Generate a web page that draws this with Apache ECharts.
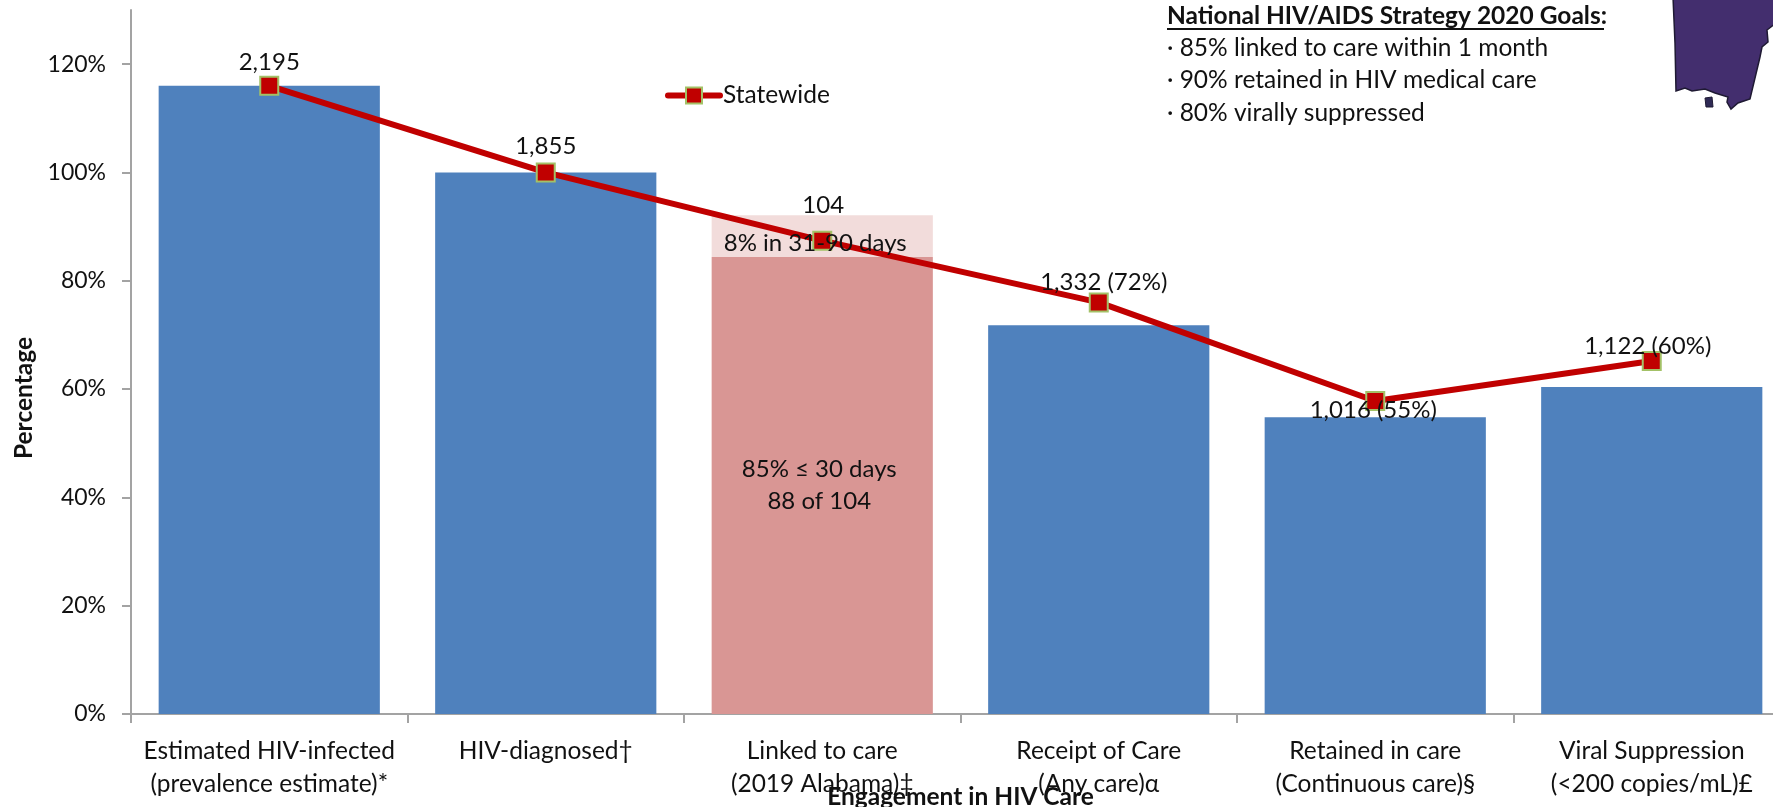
<!DOCTYPE html>
<html>
<head>
<meta charset="utf-8">
<style>
  html, body { margin: 0; padding: 0; background: #fff; }
  #chart { width: 1773px; height: 807px; }
</style>
<script src="https://cdn.jsdelivr.net/npm/echarts@6/dist/echarts.min.js"></script>
</head>
<body>
<div id="chart"></div>
<script>
const categories = [
  'Estimated HIV-infected\n(prevalence estimate)*',
  'HIV-diagnosed†',
  'Linked to care\n(2019 Alabama)‡',
  'Receipt of Care\n(Any care)α',
  'Retained in care\n(Continuous care)§',
  'Viral Suppression\n(<200 copies/mL)£'
]
const careValues = [116, 100, null, 71.8, 54.8, 60.4]
const linked30Values = [null, null, 84.4, null, null, null]
const linked90Values = [null, null, 7.7, null, null, null]
const statewideValues = [116, 100, 87.4, 76, 57.8, 65.2]
const statewideLabels = ['2,195', '1,855', '104', '1,332 (72%)', '1,016 (55%)', '1,122 (60%)']
const yTicks = [0, 20, 40, 60, 80, 100, 120]
const goalsTitle = 'National HIV/AIDS Strategy 2020 Goals:'
const goals = ['· 85% linked to care within 1 month', '· 90% retained in HIV medical care', '· 80% virally suppressed']

const FONT = 'Lato'
const FONT_SIZE = 24.5
const LABEL_SIZE = 24
const TEXT = '#111'
const AXIS = '#a3a3a3'

// label placement relative to each line marker
const labelShift = [[0, -24], [0, -26], [1, -35], [5, -20], [-2, 9], [-4, -15]]

const chart = echarts.init(document.getElementById('chart'))

chart.setOption({
  animation: false,
  textStyle: { fontFamily: FONT },
  grid: { left: 131, top: 10, width: 1659, height: 704, containLabel: false, outerBoundsMode: 'none' },
  legend: {
    left: 660,
    top: 78,
    data: [{ name: 'Statewide', lineStyle: { width: 6, cap: 'round' } }],
    itemWidth: 52,
    itemHeight: 20,
    itemGap: 10,
    textStyle: { fontFamily: FONT, fontSize: FONT_SIZE, color: TEXT, padding: [0, 0, 0, -2] }
  },
  xAxis: {
    type: 'category',
    data: categories,
    axisLine: { lineStyle: { color: AXIS, width: 2 } },
    axisTick: { show: true, length: 9, lineStyle: { color: AXIS, width: 2 } },
    axisLabel: { interval: 0, margin: 21, fontFamily: FONT, fontSize: FONT_SIZE, lineHeight: 33, color: TEXT },
    name: 'Engagement in HIV Care',
    nameLocation: 'middle',
    nameGap: 71,
    nameMoveOverlap: false,
    nameTextStyle: { fontFamily: FONT, fontSize: FONT_SIZE, fontWeight: 'bold', color: TEXT }
  },
  yAxis: {
    type: 'value',
    min: 0,
    max: 130,
    interval: 20,
    splitLine: { show: false },
    axisLine: { show: true, lineStyle: { color: AXIS, width: 2 } },
    axisTick: { show: true, length: 9, customValues: yTicks, lineStyle: { color: AXIS, width: 2 } },
    axisLabel: {
      margin: 25,
      customValues: yTicks,
      formatter: '{value}%',
      fontFamily: FONT,
      fontSize: 23,
      color: TEXT
    }
  },
  series: [
    {
      type: 'bar',
      name: 'Care',
      stack: 'care',
      barWidth: '80%',
      data: careValues,
      itemStyle: { color: '#4f81bd' }
    },
    {
      type: 'bar',
      name: 'Linked within 30 days',
      stack: 'care',
      data: linked30Values,
      itemStyle: { color: '#d99694' },
      label: {
        show: true,
        position: 'inside',
        offset: [-3, 0],
        formatter: '85% ≤ 30 days\n88 of 104',
        fontFamily: FONT,
        fontSize: LABEL_SIZE,
        lineHeight: 32,
        color: TEXT
      }
    },
    {
      type: 'bar',
      name: 'Linked in 31-90 days',
      stack: 'care',
      data: linked90Values,
      itemStyle: { color: '#f2dcdb' }
    },
    {
      type: 'line',
      name: 'Statewide',
      z: 5,
      data: statewideValues.map((v, i) => ({
        value: v,
        label: {
          show: true,
          position: 'inside',
          offset: labelShift[i],
          formatter: statewideLabels[i],
          fontFamily: FONT,
          fontSize: LABEL_SIZE,
          color: TEXT
        }
      })),
      symbol: 'rect',
      symbolSize: 18,
      itemStyle: { color: '#c00000', borderColor: '#a3c167', borderWidth: 2 },
      lineStyle: { color: '#c00000', width: 6 }
    },
    // the 31-90 days text sits over the line, so it gets its own series above it
    {
      type: 'scatter',
      name: 'Linked in 31-90 days label',
      z: 6,
      data: linked90Values.map((v, i) => (v === null ? null : linked30Values[i] + v / 2)),
      symbolSize: 1,
      itemStyle: { color: 'transparent', opacity: 1 },
      label: {
        show: true,
        position: 'inside',
        offset: [-7, 7],
        formatter: '8% in 31-90 days',
        fontFamily: FONT,
        fontSize: LABEL_SIZE,
        color: TEXT,
        opacity: 1
      }
    }
  ],
  graphic: [
    {
      type: 'text',
      x: 24,
      y: 398,
      rotation: Math.PI / 2,
      style: {
        text: 'Percentage',
        font: 'bold ' + FONT_SIZE + 'px ' + FONT,
        fill: TEXT,
        align: 'center',
        verticalAlign: 'middle'
      }
    },
    {
      type: 'text',
      x: 1167,
      y: 16,
      style: { text: goalsTitle, font: 'bold ' + FONT_SIZE + 'px ' + FONT, fill: TEXT, verticalAlign: 'middle' }
    },
    {
      type: 'line',
      shape: { x1: 1167, y1: 29, x2: 1604, y2: 29 },
      style: { stroke: '#111', lineWidth: 2 }
    },
    ...goals.map((text, i) => ({
      type: 'text',
      x: 1167,
      y: 48 + i * 32.5,
      style: { text, font: FONT_SIZE + 'px ' + FONT, fill: TEXT, verticalAlign: 'middle' }
    })),
    // corner of the state map inset
    {
      type: 'polygon',
      shape: {
        points: [[1673, -3], [1675, 43], [1676, 91], [1685, 88], [1692, 91], [1705, 89], [1715, 93], [1728, 97],
          [1727, 102], [1731, 109], [1738, 103], [1750, 99], [1760, 57], [1762, 47], [1768, 42], [1767, 30],
          [1776, 23], [1776, -3]]
      },
      style: { fill: '#432e6e', stroke: '#1f1a33', lineWidth: 1.5 }
    },
    {
      type: 'polygon',
      shape: { points: [[1705, 98], [1712, 97], [1713, 107], [1706, 107]] },
      style: { fill: '#2f2a55', stroke: '#1f1a33', lineWidth: 1 }
    }
  ]
})

window.addEventListener('resize', () => chart.resize())
</script>
</body>
</html>
